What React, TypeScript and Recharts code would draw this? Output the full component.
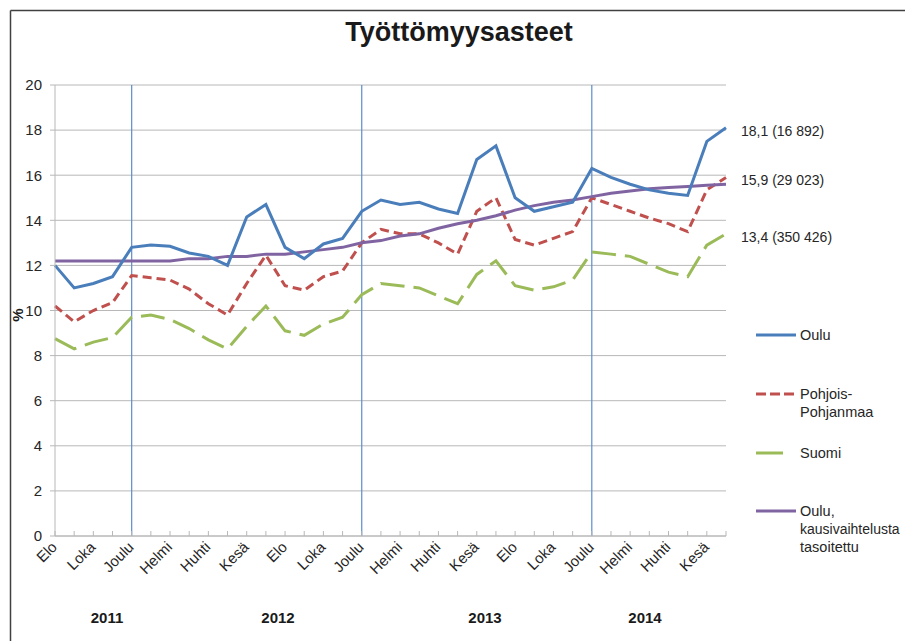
import React from "react";
import { LineChart, Line, XAxis, YAxis, CartesianGrid, ReferenceLine, LabelList } from "recharts";

const periods = [
  "Elo 2011", "Syys 2011", "Loka 2011", "Marras 2011", "Joulu 2011",
  "Tammi 2012", "Helmi 2012", "Maalis 2012", "Huhti 2012", "Touko 2012", "Kesä 2012", "Heinä 2012",
  "Elo 2012", "Syys 2012", "Loka 2012", "Marras 2012", "Joulu 2012",
  "Tammi 2013", "Helmi 2013", "Maalis 2013", "Huhti 2013", "Touko 2013", "Kesä 2013", "Heinä 2013",
  "Elo 2013", "Syys 2013", "Loka 2013", "Marras 2013", "Joulu 2013",
  "Tammi 2014", "Helmi 2014", "Maalis 2014", "Huhti 2014", "Touko 2014", "Kesä 2014", "Heinä 2014",
];

const oulu = [12.0, 11.0, 11.2, 11.5, 12.8, 12.9, 12.85, 12.55, 12.4, 12.0, 14.15, 14.7, 12.8, 12.3, 12.95, 13.2, 14.4, 14.9, 14.7, 14.8, 14.5, 14.3, 16.7, 17.3, 15.0, 14.4, 14.6, 14.8, 16.3, 15.9, 15.6, 15.35, 15.2, 15.1, 17.5, 18.1];
const pohjoisPohjanmaa = [10.2, 9.5, 10.0, 10.35, 11.55, 11.45, 11.35, 10.95, 10.3, 9.8, 11.2, 12.45, 11.1, 10.9, 11.5, 11.75, 13.0, 13.6, 13.4, 13.4, 13.0, 12.5, 14.4, 15.0, 13.15, 12.9, 13.2, 13.5, 15.0, 14.7, 14.4, 14.1, 13.85, 13.5, 15.35, 15.9];
const suomi = [8.75, 8.3, 8.6, 8.8, 9.7, 9.8, 9.6, 9.2, 8.7, 8.3, 9.3, 10.2, 9.1, 8.9, 9.4, 9.7, 10.7, 11.2, 11.1, 11.0, 10.65, 10.3, 11.6, 12.2, 11.1, 10.9, 11.05, 11.35, 12.6, 12.5, 12.4, 12.05, 11.7, 11.5, 12.9, 13.4];
const ouluTrend = [12.2, 12.2, 12.2, 12.2, 12.2, 12.2, 12.2, 12.3, 12.3, 12.4, 12.4, 12.5, 12.5, 12.6, 12.7, 12.8, 13.0, 13.1, 13.3, 13.4, 13.65, 13.85, 14.0, 14.2, 14.45, 14.65, 14.8, 14.9, 15.05, 15.2, 15.3, 15.4, 15.45, 15.5, 15.55, 15.6];

const yTicks = [0, 2, 4, 6, 8, 10, 12, 14, 16, 18, 20];
const yearMarkers = ["Joulu 2011", "Joulu 2012", "Joulu 2013"];
const years = ["2011", "2012", "2013", "2014"];
const endLabels = { oulu: "18,1 (16 892)", pp: "15,9 (29 023)", suomi: "13,4 (350 426)" };
const seriesNames = ["Oulu", "Pohjois-Pohjanmaa", "Suomi", "Oulu, kausivaihtelusta tasoitettu"];

const data = periods.map((p, i) => ({
  period: p,
  oulu: oulu[i],
  pp: pohjoisPohjanmaa[i],
  suomi: suomi[i],
  trend: ouluTrend[i],
}));

const FONT = "'Liberation Sans', Arial, sans-serif";
const C_BLUE = "#4a7ebb";
const C_RED = "#c0504d";
const C_GREEN = "#9bbb59";
const C_PURPLE = "#8064a2";
const C_GRID = "#b8b8b8";

const XTick = (props: any) => {
  const { x, y, payload, index } = props;
  const idx = payload && payload.index != null ? payload.index : index;
  const label = String(payload.value).split(" ")[0];
  return (
    <g>
      <line x1={x} y1={y} x2={x} y2={y - 5} stroke={C_GRID} strokeWidth={1} />
      {idx % 2 === 0 ? (
        <text
          x={x + 3}
          y={y + 12}
          transform={`rotate(-45, ${x + 3}, ${y + 12})`}
          textAnchor="end"
          fontSize={15}
          fontFamily={FONT}
          fill="#262626"
        >
          {label}
        </text>
      ) : null}
    </g>
  );
};

const makeEndLabel = (text: string, last: number) => (props: any) => {
  const { x, y, index } = props;
  if (index !== last) return null;
  return (
    <text x={x + 15} y={y + 3} dominantBaseline="central" fontSize={14} fontFamily={FONT} fill="#262626">
      {text}
    </text>
  );
};

export default function App() {
  const last = periods.length - 1;
  return (
    <div style={{ position: "absolute", left: 0, top: 0, width: 905, height: 641, background: "#fff", overflow: "hidden" }}>
      <LineChart
        width={905}
        height={641}
        data={data}
        margin={{ top: 85, right: 179, bottom: 75, left: 15 }}
        style={{ position: "absolute", left: 0, top: 0 }}
      >
        <CartesianGrid horizontal={true} vertical={false} stroke={C_GRID} strokeWidth={1} />
        <XAxis
          dataKey="period"
          type="category"
          interval={0}
          height={30}
          tickSize={0}
          tickMargin={0}
          tickLine={false}
          axisLine={{ stroke: C_GRID, strokeWidth: 1 }}
          tick={<XTick />}
        />
        <YAxis
          type="number"
          domain={[0, 20]}
          ticks={yTicks}
          width={40}
          tickSize={5}
          tickMargin={8}
          axisLine={{ stroke: C_GRID, strokeWidth: 1 }}
          tickLine={{ stroke: C_GRID }}
          tick={{ fontSize: 15, fontFamily: FONT, fill: "#262626" }}
          interval={0}
        />
        {yearMarkers.map((m) => (
          <ReferenceLine key={m} x={m} stroke="#5b8ccb" strokeWidth={1.2} />
        ))}
        <Line dataKey="suomi" stroke={C_GREEN} strokeWidth={3} strokeDasharray="24 9" dot={false} isAnimationActive={false}>
          <LabelList dataKey="suomi" content={makeEndLabel(endLabels.suomi, last)} />
        </Line>
        <Line dataKey="pp" stroke={C_RED} strokeWidth={3} strokeDasharray="9 5" dot={false} isAnimationActive={false}>
          <LabelList dataKey="pp" content={makeEndLabel(endLabels.pp, last)} />
        </Line>
        <Line dataKey="trend" stroke={C_PURPLE} strokeWidth={3} dot={false} isAnimationActive={false} />
        <Line dataKey="oulu" stroke={C_BLUE} strokeWidth={3} dot={false} isAnimationActive={false}>
          <LabelList dataKey="oulu" content={makeEndLabel(endLabels.oulu, last)} />
        </Line>
      </LineChart>
      <svg width={905} height={641} style={{ position: "absolute", left: 0, top: 0, pointerEvents: "none" }} fontFamily={FONT}>
        <line x1={10.5} y1={10.5} x2={905} y2={10.5} stroke="#404040" strokeWidth={1.5} />
        <line x1={10.5} y1={10.5} x2={10.5} y2={641} stroke="#404040" strokeWidth={1.5} />
        <text x={459} y={41} textAnchor="middle" fontSize={27} fontWeight="bold" fill="#1a1a1a">
          Työttömyysasteet
        </text>
        <text x={23} y={315} transform="rotate(-90, 23, 315)" textAnchor="middle" fontSize={15} fontWeight="bold" fill="#1a1a1a">
          %
        </text>
        <text x={107} y={623} textAnchor="middle" fontSize={15} fontWeight="bold" fill="#1a1a1a">{years[0]}</text>
        <text x={278} y={623} textAnchor="middle" fontSize={15} fontWeight="bold" fill="#1a1a1a">{years[1]}</text>
        <text x={485} y={623} textAnchor="middle" fontSize={15} fontWeight="bold" fill="#1a1a1a">{years[2]}</text>
        <text x={645} y={623} textAnchor="middle" fontSize={15} fontWeight="bold" fill="#1a1a1a">{years[3]}</text>
        {/* legend */}
        <line x1={756} y1={335} x2={796} y2={335} stroke={C_BLUE} strokeWidth={3} />
        <text x={800} y={335} dominantBaseline="central" fontSize={14.5} fill="#262626">{seriesNames[0]}</text>
        <line x1={756} y1={394} x2={796} y2={394} stroke={C_RED} strokeWidth={3} strokeDasharray="10 4" />
        <text x={800} y={394} dominantBaseline="central" fontSize={14.5} fill="#262626">Pohjois-</text>
        <text x={800} y={412} dominantBaseline="central" fontSize={14.5} fill="#262626">Pohjanmaa</text>
        <line x1={756} y1={453} x2={783} y2={453} stroke={C_GREEN} strokeWidth={3} />
        <text x={800} y={453} dominantBaseline="central" fontSize={14.5} fill="#262626">{seriesNames[2]}</text>
        <line x1={756} y1={511} x2={796} y2={511} stroke={C_PURPLE} strokeWidth={3} />
        <text x={800} y={511} dominantBaseline="central" fontSize={14.5} fill="#262626">Oulu,</text>
        <text x={800} y={529} dominantBaseline="central" fontSize={14} fill="#262626">kausivaihtelusta</text>
        <text x={800} y={547} dominantBaseline="central" fontSize={14.5} fill="#262626">tasoitettu</text>
      </svg>
    </div>
  );
}
